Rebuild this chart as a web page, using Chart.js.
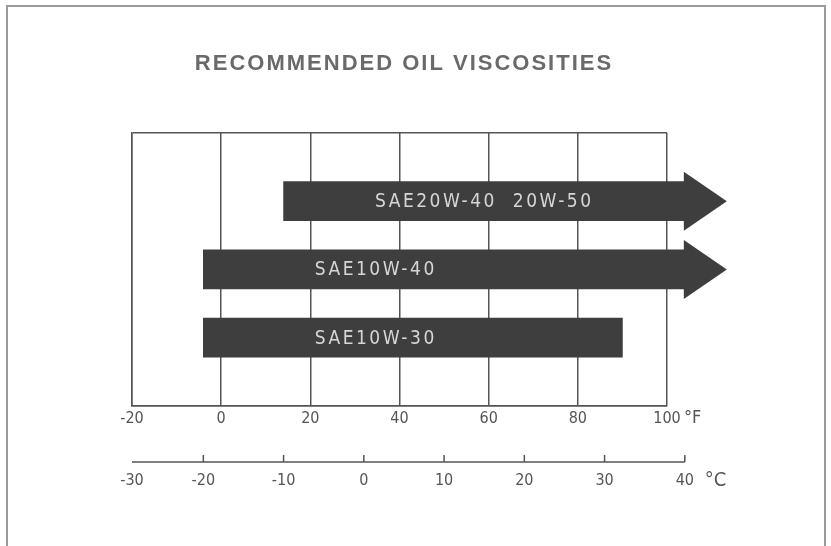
<!DOCTYPE html>
<html>
<head>
    <meta name="viewport" content="width=device-width, initial-scale=1">
    <title>Recommended Oil Viscosities</title>
    <script src="https://cdn.jsdelivr.net/npm/chart.js"></script>
    <style>
        html, body { margin: 0; padding: 0; background: #fff; overflow: hidden; }
        .sheet { position: relative; width: 831px; height: 546px; }
        .frame { position: absolute; left: 6px; top: 5px; width: 816px; height: 600px; border: 2px solid #9a9a9a; pointer-events: none; }
        canvas { position: absolute; left: 0; top: 0; }
    </style>
</head>
<body>
    <div class="sheet">
        <canvas id="oilChart" width="831" height="546"></canvas>
        <div class="frame"></div>
    </div>
    <script>
        // values
        var chartTitle = 'RECOMMENDED OIL VISCOSITIES';
        var tempF = [-20, 0, 20, 40, 60, 80, 100];
        var tempC = [-30, -20, -10, 0, 10, 20, 30, 40];
        var grades = ['SAE20W-40  20W-50', 'SAE10W-40', 'SAE10W-30'];
        var lowF = [14, -4, -4];
        var highF = [104, 104, 90];
        var openEnded = [true, true, false];

        var narrow = '"Liberation Sans Narrow", "DejaVu Sans Condensed", "Liberation Sans", sans-serif';
        var lineCol = '#555';
        var barCol = '#3e3e3e';

        function cToF(c) { return c * 9 / 5 + 32; }

        var extras = {
            id: 'extras',
            afterDatasetsDraw: function(chart) {
                var ctx = chart.ctx;
                var meta = chart.getDatasetMeta(0);
                var labelFrom = [34.5, 21, 21];
                ctx.save();
                meta.data.forEach(function(bar, i) {
                    var half = bar.height / 2;
                    if (openEnded[i]) {
                        ctx.fillStyle = barCol;
                        ctx.beginPath();
                        ctx.moveTo(bar.x - 1, bar.y - half - 10);
                        ctx.lineTo(bar.x + 42, bar.y);
                        ctx.lineTo(bar.x - 1, bar.y + half + 10);
                        ctx.closePath();
                        ctx.fill();
                    }
                    ctx.fillStyle = '#d6d6d6';
                    ctx.font = '19px ' + narrow;
                    ctx.letterSpacing = '2.5px';
                    ctx.textAlign = 'left';
                    ctx.textBaseline = 'middle';
                    ctx.fillText(grades[i], chart.scales.x.getPixelForValue(labelFrom[i]), bar.y + 1);
                });
                ctx.restore();
            },
            afterDraw: function(chart) {
                var ctx = chart.ctx;
                var x = chart.scales.x;
                var area = chart.chartArea;
                ctx.save();

                // title
                ctx.fillStyle = '#6a6a6a';
                ctx.font = 'bold 22px "Liberation Sans", Arial, sans-serif';
                ctx.letterSpacing = '2px';
                ctx.textAlign = 'center';
                ctx.textBaseline = 'middle';
                ctx.fillText(chartTitle, 404, 64);
                ctx.letterSpacing = '0px';

                // unit after the last fahrenheit label
                ctx.fillStyle = '#555';
                ctx.font = '18px ' + narrow;
                ctx.textAlign = 'left';
                ctx.fillText('°F', x.getPixelForValue(100) + 17, 418);

                // celsius scale
                var yLine = 462;
                var x0 = x.getPixelForValue(tempF[0]);
                var x1 = x.getPixelForValue(cToF(tempC[tempC.length - 1]));
                ctx.strokeStyle = lineCol;
                ctx.lineWidth = 1.5;
                ctx.beginPath();
                ctx.moveTo(x0, yLine);
                ctx.lineTo(x1, yLine);
                tempC.forEach(function(c) {
                    var px = x.getPixelForValue(cToF(c));
                    if (px > x0 + 2) {
                        ctx.moveTo(px, yLine);
                        ctx.lineTo(px, yLine - 7);
                    }
                });
                ctx.stroke();

                ctx.fillStyle = '#555';
                ctx.font = '16px ' + narrow;
                ctx.textAlign = 'center';
                tempC.forEach(function(c) {
                    var px = Math.max(x.getPixelForValue(cToF(c)), area.left);
                    ctx.fillText(String(c), px, 481);
                });
                ctx.font = '20px ' + narrow;
                ctx.textAlign = 'left';
                ctx.fillText('°C', x1 + 20, 481);
                ctx.restore();
            }
        };

        var ctx = document.getElementById('oilChart').getContext('2d');
        var oilChart = new Chart(ctx, {
            type: 'bar',
            data: {
                datasets: [{
                    label: 'Viscosity range',
                    data: grades.map(function(g, i) {
                        return { y: i + 1, x: [lowF[i], highF[i]] };
                    }),
                    backgroundColor: barCol,
                    borderWidth: 0,
                    barThickness: 39,
                    clip: false
                }]
            },
            options: {
                indexAxis: 'y',
                responsive: false,
                animation: false,
                layout: {
                    padding: { left: 132, right: 164, top: 133, bottom: 115 }
                },
                plugins: {
                    legend: { display: false },
                    title: { display: false },
                    tooltip: { enabled: false }
                },
                scales: {
                    x: {
                        type: 'linear',
                        min: tempF[0],
                        max: tempF[tempF.length - 1],
                        grid: { color: lineCol, lineWidth: 1.5, drawTicks: false },
                        border: { color: lineCol, width: 1.5 },
                        ticks: {
                            stepSize: 20,
                            padding: 3,
                            color: '#555',
                            font: { family: narrow, size: 16 },
                            maxRotation: 0,
                            callback: function(v) { return tempF.indexOf(v) >= 0 ? String(v) : ''; }
                        }
                    },
                    y: {
                        type: 'linear',
                        min: 0,
                        max: grades.length + 1,
                        reverse: true,
                        offset: false,
                        grid: { color: lineCol, lineWidth: 1.5, drawTicks: false, offset: false },
                        border: { color: lineCol, width: 1.5 },
                        ticks: { display: false, stepSize: grades.length + 1 }
                    }
                }
            },
            plugins: [extras]
        });
    </script>
</body>
</html>
